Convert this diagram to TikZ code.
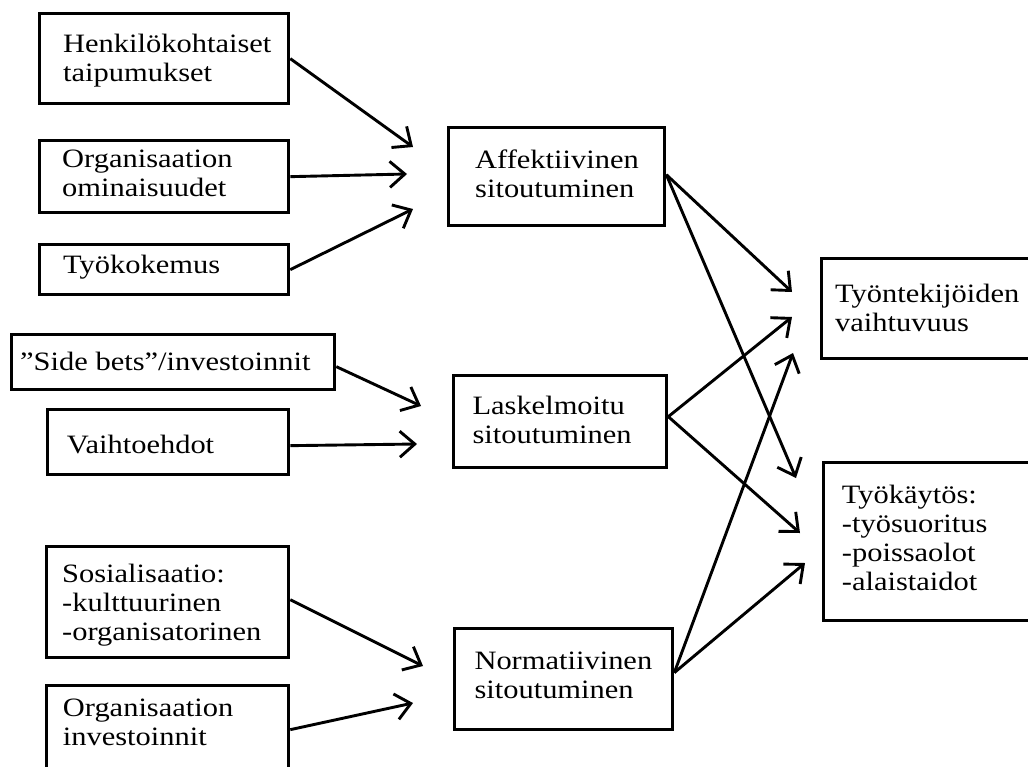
\documentclass[tikz,border=0pt]{standalone}
\usepackage{fontspec}
\setmainfont{Liberation Serif}
\usepackage{graphicx}
\usetikzlibrary{arrows.meta}
\newcommand{\boxtext}[1]{\scalebox{1.15}[1]{\begin{tabular}{@{}l@{}}#1\end{tabular}}}
\tikzset{
  box/.style={draw, line width=3.3pt, inner sep=0pt, anchor=north west},
  txt/.style={anchor=west, inner sep=0pt, font=\fontsize{26.5}{29}\selectfont},
  arr/.style={line width=2.9pt, -{Straight Barb[length=15pt,width=26pt]}}
}
\begin{document}
\begin{tikzpicture}[x=1pt,y=-1pt]
\useasboundingbox (0,0) rectangle (1028,766);
% left column boxes
\node[box, minimum width=249pt, minimum height=90pt] (henk) at (38,12) {};
\node[box, minimum width=249pt, minimum height=72pt] (orgom) at (38,139) {};
\node[box, minimum width=249pt, minimum height=50pt] (tyok) at (38,243) {};
\node[box, minimum width=323pt, minimum height=55pt] (side) at (10,333) {};
\node[box, minimum width=241pt, minimum height=65pt] (vaiht) at (46,408) {};
\node[box, minimum width=242pt, minimum height=111pt] (sosi) at (45,545) {};
\node[box, minimum width=242pt, minimum height=88pt] (orginv) at (45,684) {};
% middle column boxes
\node[box, minimum width=216pt, minimum height=98pt] (aff) at (447,126) {};
\node[box, minimum width=213pt, minimum height=92pt] (lask) at (452,374) {};
\node[box, minimum width=218pt, minimum height=101pt] (norm) at (453,627) {};
% right column boxes
\node[box, minimum width=225pt, minimum height=100pt] (vaihtuv) at (820,257) {};
\node[box, minimum width=225pt, minimum height=158pt] (tyokay) at (822,461) {};
% texts
\node[txt] (henk-t) at (63,61.3) {\boxtext{Henkilökohtaiset\\taipumukset}};
\node[txt] (orgom-t) at (62,175.8) {\boxtext{Organisaation\\ominaisuudet}};
\node[txt] (tyok-t) at (63,267.4) {\boxtext{Työkokemus}};
\node[txt] (side-t) at (20,364.8) {\boxtext{”Side bets”/investoinnit}};
\node[txt] (vaiht-t) at (66.7,447.4) {\boxtext{Vaihtoehdot}};
\node[txt] (sosi-t) at (62,606) {\boxtext{Sosialisaatio:\\-kulttuurinen\\-organisatorinen}};
\node[txt] (orginv-t) at (62.7,725.4) {\boxtext{Organisaation\\investoinnit}};
\node[txt] (aff-t) at (475,177.4) {\boxtext{Affektiivinen\\sitoutuminen}};
\node[txt] (lask-t) at (472.3,422.8) {\boxtext{Laskelmoitu\\sitoutuminen}};
\node[txt] (norm-t) at (474.3,677.9) {\boxtext{Normatiivinen\\sitoutuminen}};
\node[txt] (vaihtuv-t) at (835,311.6) {\boxtext{Työntekijöiden\\vaihtuvuus}};
\node[txt] (tyokay-t) at (841.7,541.6) {\boxtext{Työkäytös:\\-työsuoritus\\-poissaolot\\-alaistaidot}};
% arrow tip coordinates
\coordinate (t1) at (413,147);
\coordinate (t2) at (407,174);
\coordinate (t3) at (413,209);
\coordinate (t4) at (421,406);
\coordinate (t5) at (417,444);
\coordinate (t6) at (423,666);
\coordinate (t7) at (413,703);
\coordinate (a1) at (792,292);
\coordinate (a2) at (796,478);
\coordinate (l1) at (792,317);
\coordinate (l2) at (800,533);
\coordinate (n1) at (793,353);
\coordinate (n2) at (805,563);
% arrows
\draw[arr] (henk.east) -- (t1);
\draw[arr] (orgom.east) -- (t2);
\draw[arr] (tyok.east) -- (t3);
\draw[arr] ([yshift=-4.5pt]side.east) -- (t4);
\draw[arr] ([yshift=-3.5pt]vaiht.east) -- (t5);
\draw[arr] ([yshift=2.5pt]sosi.east) -- (t6);
\draw[arr] (orginv.east) -- (t7);
\draw[arr] ([yshift=2pt]aff.east) -- (a1);
\draw[arr] ([yshift=2pt]aff.east) -- (a2);
\draw[arr] ([yshift=5pt]lask.east) -- (l1);
\draw[arr] ([yshift=5pt]lask.east) -- (l2);
\draw[arr] ([yshift=6.5pt]norm.east) -- (n1);
\draw[arr] ([yshift=6.5pt]norm.east) -- (n2);
\end{tikzpicture}
\end{document}
